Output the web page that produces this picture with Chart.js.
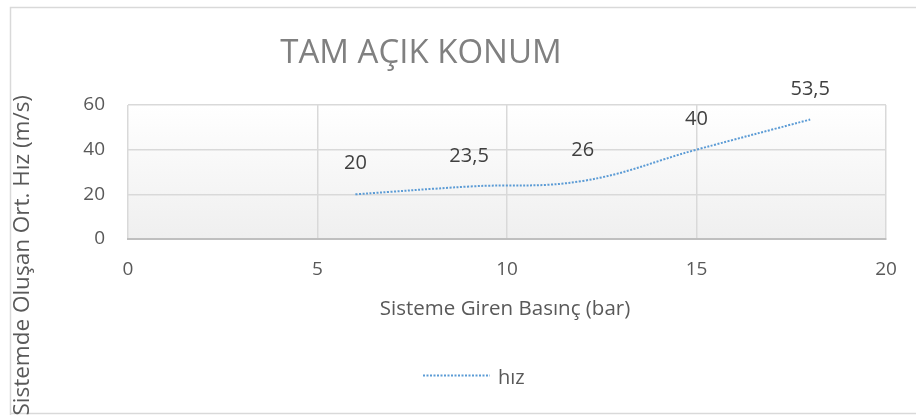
<!DOCTYPE html>
<html>
<head>
<meta charset="utf-8">
<script src="https://cdn.jsdelivr.net/npm/chart.js@4/dist/chart.umd.min.js"></script>
<style>
  html, body { margin: 0; padding: 0; background: #ffffff; }
  #wrap { width: 916px; height: 415px; position: relative; overflow: hidden; }
</style>
</head>
<body>
<div id="wrap"><canvas id="c"></canvas></div>
<script>
// Pressure entering the system (bar) and resulting mean velocity (m/s)
const pressureBar = [6, 9, 12, 15, 18];
const velocity = [20, 23.5, 26, 40, 53.5];
const valueLabels = ['20', '23,5', '26', '40', '53,5'];
const xTicks = [0, 5, 10, 15, 20];
const yTicks = [0, 20, 40, 60];

const chartTitle = 'TAM AÇIK KONUM';
const xTitle = 'Sisteme Giren Basınç (bar)';
const yTitle = 'Sistemde Oluşan Ort. Hız (m/s)';
const seriesName = 'hız';

const FONT = '"Open Sans", "DejaVu Sans", sans-serif';
const LINE_COLOR = '#5b9bd5';

const points = pressureBar.map((x, i) => ({ x: x, y: velocity[i] }));

// Frame, plot-area shading, title, axis titles, legend and value labels
const decorations = {
  id: 'decorations',
  beforeDraw(chart) {
    const ctx = chart.ctx;
    const a = chart.chartArea;
    ctx.save();
    ctx.strokeStyle = '#d9d9d9';
    ctx.lineWidth = 1.5;
    ctx.beginPath();
    ctx.moveTo(10.5, 415);
    ctx.lineTo(10.5, 7.5);
    ctx.lineTo(916, 7.5);
    ctx.moveTo(10.5, 413.5);
    ctx.lineTo(916, 413.5);
    ctx.stroke();
    const g = ctx.createLinearGradient(0, a.top, 0, a.bottom);
    g.addColorStop(0, '#ffffff');
    g.addColorStop(1, '#efefef');
    ctx.fillStyle = g;
    ctx.fillRect(a.left, a.top, a.right - a.left, a.bottom - a.top);
    ctx.restore();
  },
  afterDraw(chart) {
    const ctx = chart.ctx;
    const xs = chart.scales.x, ys = chart.scales.y;
    ctx.save();
    ctx.textAlign = 'center';
    ctx.textBaseline = 'alphabetic';

    ctx.fillStyle = '#808080';
    ctx.font = '33px ' + FONT;
    ctx.fillText(chartTitle, 421, 63);

    ctx.fillStyle = '#595959';
    ctx.font = '20.5px ' + FONT;
    ctx.fillText(xTitle, 505, 315);

    ctx.save();
    ctx.translate(29, 95);
    ctx.rotate(-Math.PI / 2);
    ctx.textAlign = 'right';
    ctx.font = '22.5px ' + FONT;
    ctx.fillText(yTitle, 0, 0);
    ctx.restore();

    // legend
    ctx.strokeStyle = LINE_COLOR;
    ctx.lineWidth = 2;
    ctx.setLineDash([2, 1.5]);
    ctx.beginPath();
    ctx.moveTo(423, 375.5);
    ctx.lineTo(490, 375.5);
    ctx.stroke();
    ctx.setLineDash([]);
    ctx.textAlign = 'left';
    ctx.font = '20px ' + FONT;
    ctx.fillText(seriesName, 498, 384);

    // value labels above each point
    ctx.textAlign = 'center';
    ctx.fillStyle = '#404040';
    ctx.font = '20px ' + FONT;
    points.forEach((p, i) => {
      ctx.fillText(valueLabels[i], xs.getPixelForValue(p.x), ys.getPixelForValue(p.y) - 25);
    });
    ctx.restore();
  }
};

new Chart(document.getElementById('c'), {
  type: 'scatter',
  data: {
    datasets: [{
      label: seriesName,
      data: points,
      showLine: true,
      borderColor: LINE_COLOR,
      borderWidth: 2,
      borderDash: [2, 1.5],
      pointRadius: 0,
      tension: 0.4,
      fill: false
    }]
  },
  options: {
    responsive: true,
    maintainAspectRatio: false,
    animation: false,
    layout: { padding: { left: 58, right: 30, top: 105, bottom: 126 } },
    plugins: { legend: { display: false }, title: { display: false }, tooltip: { enabled: false } },
    scales: {
      x: {
        type: 'linear', min: 0, max: 20,
        afterBuildTicks(s) { s.ticks = xTicks.map(v => ({ value: v })); },
        afterFit(s) { s.height = 50; },
        grid: { color: '#d9d9d9', lineWidth: 1.5, drawTicks: false },
        border: { display: true, color: '#bfbfbf', width: 2 },
        ticks: { color: '#595959', font: { family: FONT, size: 19 }, padding: 19, maxRotation: 0 }
      },
      y: {
        type: 'linear', min: 0, max: 60,
        afterBuildTicks(s) { s.ticks = yTicks.map(v => ({ value: v })); },
        afterFit(s) { s.width = 70; },
        grid: { color: '#d9d9d9', lineWidth: 1.5, drawTicks: false },
        border: { display: false },
        ticks: { color: '#595959', font: { family: FONT, size: 19 }, padding: 23 }
      }
    }
  },
  plugins: [decorations]
});
</script>
</body>
</html>
